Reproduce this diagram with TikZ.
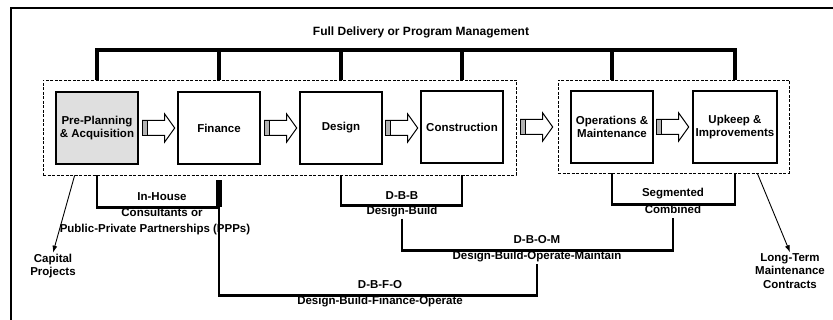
\documentclass[tikz,border=0pt]{standalone}
\usepackage{fontspec}
\setmainfont{Liberation Sans}
\usetikzlibrary{positioning}
\usetikzlibrary{arrows.meta}

\begin{document}
\begin{tikzpicture}[x=1pt, y=-1pt,
    every node/.style={font=\bfseries\fontsize{11.5}{13.5}\selectfont, align=center, inner sep=1pt},
    stage/.style={draw, line width=1.4pt, minimum width=82pt, minimum height=72pt},
    group/.style={draw, dash pattern=on 3pt off 1.5pt, line width=0.7pt, inner sep=0pt},
    lbl/.style={text height=8.5pt, text depth=2.5pt},
    bar/.style={line width=3.4pt},
    link/.style={line width=2.9pt},
    pointer/.style={-{Latex[length=7pt,width=5pt]}, line width=0.9pt},
    flow/.pic={
        \draw[line width=1pt, fill=white] (0,-7.5) -- (22,-7.5) -- (22,-14) -- (32,0) -- (22,14) -- (22,7.5) -- (0,7.5) -- cycle;
        \draw[line width=1pt, fill=gray!60] (0,-7.5) rectangle (5,7.5);
    }]
            \useasboundingbox (0,0) rectangle (833,320);
            \draw[line width=1.2pt] (11,320) -- (11,8) -- (833,8);

            % Nodos
            \node[font=\bfseries\fontsize{12}{14}\selectfont] (title) at (421,32) {Full Delivery or Program Management};
            \node[group, minimum width=473pt, minimum height=95pt] (grp1) at (279.5,127.5) {};
            \node[group, minimum width=231pt, minimum height=93pt] (grp2) at (673.5,126.5) {};
            \node[stage, fill=gray!25] (pre) at (97,128) {Pre-Planning\\\& Acquisition};
            \node[stage] (fin) at (219,128) {Finance};
            \node[stage] (des) at (341,128) {Design};
            \node[stage] (con) at (462,127) {Construction};
            \node[stage] (om) at (612,127) {Operations \&\\Maintenance};
            \node[stage, minimum width=84pt] (up) at (735,127) {Upkeep \&\\Improvements};

            \node[lbl] (inhouse) at (162,198) {In-House};
            \node[lbl] (consult) at (162,214) {Consultants or};
            \node[lbl] (ppp) at (155,230) {Public-Private Partnerships (PPPs)};
            \node[lbl] (dbb) at (402,197) {D-B-B};
            \node[lbl] (db) at (402,212) {Design-Build};
            \node[lbl] (seg) at (673,194) {Segmented};
            \node[lbl] (comb) at (673,211) {Combined};
            \node[lbl] (dbom) at (537,241) {D-B-O-M};
            \node[lbl] (dbomfull) at (537,257) {Design-Build-Operate-Maintain};
            \node[lbl] (dbfo) at (380,286) {D-B-F-O};
            \node[lbl] (dbfofull) at (380,302) {Design-Build-Finance-Operate};
            \node (cap) at (53,266) {Capital\\Projects};
            \node (lt) at (790,271) {Long-Term\\Maintenance\\Contracts};

            % Flechas
            \pic at ([xshift=4pt]pre.east) {flow};
            \pic at ([xshift=4pt]fin.east) {flow};
            \pic at ([xshift=3pt]des.east) {flow};
            \pic at ([xshift=17pt]con.east) {flow};
            \pic at ([xshift=3pt]om.east) {flow};

            % Aristas
            \coordinate (top) at (0,50);
            \draw[bar] (pre |- grp1.north) |- (up |- top) -- (up |- grp2.north);
            \foreach \n/\g in {fin/grp1, des/grp1, con/grp1, om/grp2}
                \draw[bar] (\n |- top) -- (\n |- \g.north);

            \draw[link] (pre |- grp1.south) |- (fin |- consult.north);
            \draw[line width=6.5pt] ([yshift=-5pt]fin |- grp1.south) -- (fin |- consult.north);
            \draw[link] (fin |- consult.north) |- (dbfofull.north) -| (dbomfull.south);
            \draw[link] (des |- grp1.south) |- (db.north) -| (con |- grp1.south);
            \draw[link] (db.south) |- (dbomfull.north) -| (comb.south);
            \draw[link] (om |- grp2.south) |- (comb.north) -| (up |- grp2.south);

            \draw[pointer] ([xshift=32pt]grp1.south west) -- (cap.north);
            \draw[pointer] ([xshift=-32pt]grp2.south east) -- (lt.north);
          \end{tikzpicture}
\end{document}
